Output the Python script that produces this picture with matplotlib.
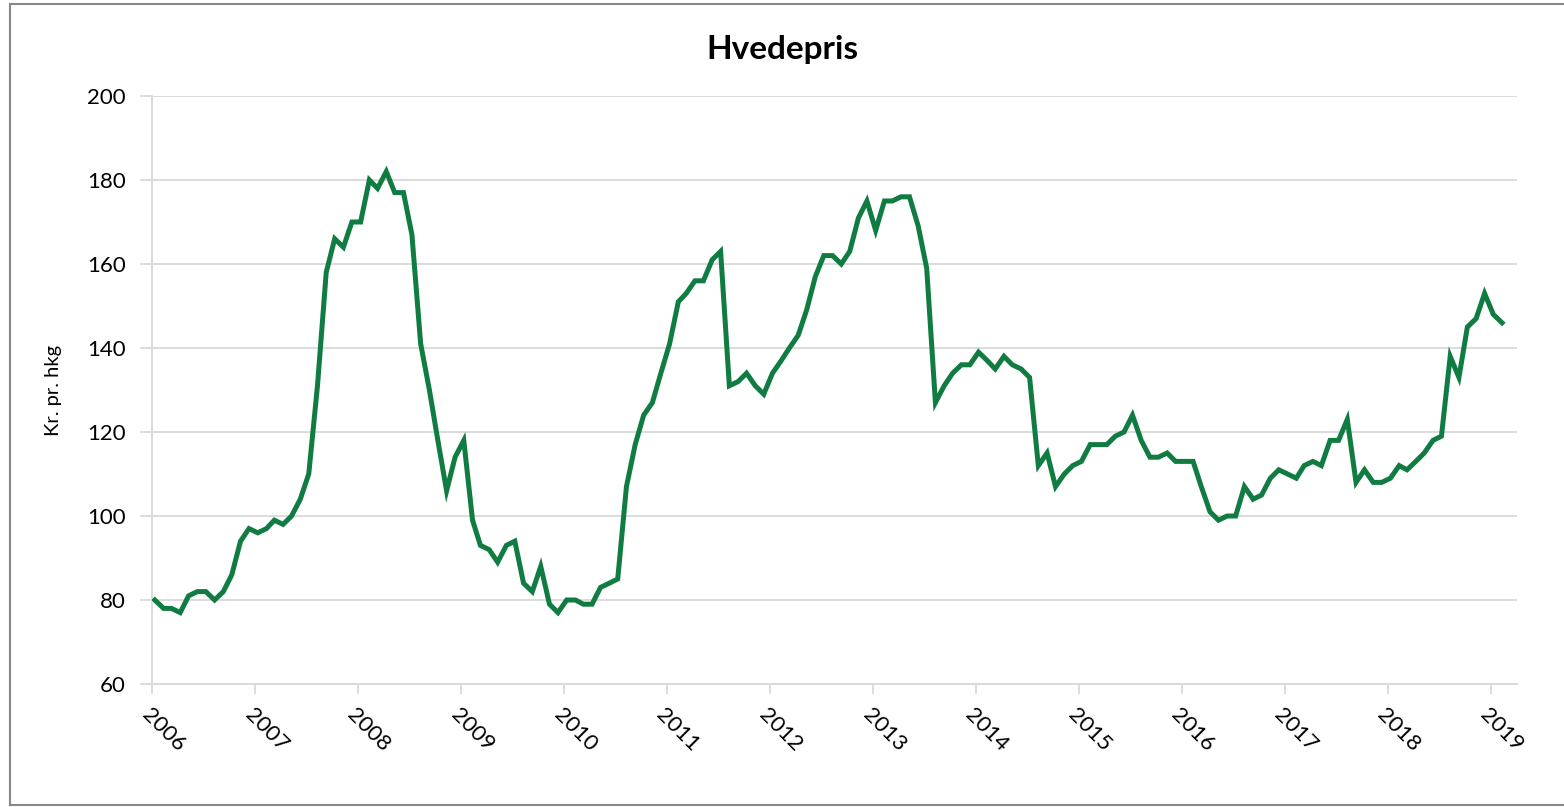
import matplotlib
matplotlib.use('Agg')
import matplotlib.pyplot as plt
import matplotlib.dates as mdates
import numpy as np
import pandas as pd
from matplotlib.lines import Line2D

title = 'Hvedepris'
yLabel = 'Kr. pr. hkg'
startMonth = '2006-01-01'
yearTicks = list(range(2006, 2020))

# monthly wheat price, Jan 2006 .. Feb 2019
prices = [
    80, 78, 78, 77, 81, 82, 82, 80, 82, 86, 94, 97,          # 2006
    96, 97, 99, 98, 100, 104, 110, 131, 158, 166, 164, 170,  # 2007
    170, 180, 178, 182, 177, 177, 167, 141, 130, 118, 106, 114,  # 2008
    118, 99, 93, 92, 89, 93, 94, 84, 82, 88, 79, 77,         # 2009
    80, 80, 79, 79, 83, 84, 85, 107, 117, 124, 127, 134,     # 2010
    141, 151, 153, 156, 156, 161, 163, 131, 132, 134, 131, 129,  # 2011
    134, 137, 140, 143, 149, 157, 162, 162, 160, 163, 171, 175,  # 2012
    168, 175, 175, 176, 176, 169, 159, 127, 131, 134, 136, 136,  # 2013
    139, 137, 135, 138, 136, 135, 133, 112, 115, 107, 110, 112,  # 2014
    113, 117, 117, 117, 119, 120, 124, 118, 114, 114, 115, 113,  # 2015
    113, 113, 107, 101, 99, 100, 100, 107, 104, 105, 109, 111,   # 2016
    110, 109, 112, 113, 112, 118, 118, 123, 108, 111, 108, 108,  # 2017
    109, 112, 111, 113, 115, 118, 119, 138, 133, 145, 147, 153,  # 2018
    148, 146,                                                  # 2019
]

lineColor = '#107c41'
gridColor = '#d9d9d9'
plt.rcParams['font.family'] = ['Lato', 'DejaVu Sans']

dates = pd.date_range(startMonth, periods=len(prices), freq='MS') + pd.Timedelta(days=10)

fig = plt.figure(figsize=(15.64, 8.07), dpi=100)
ax = fig.add_axes([152 / 1564, 1 - 684 / 807, (1517 - 152) / 1564, (684 - 96) / 807])

ax.plot(dates, prices, color=lineColor, linewidth=3.6, solid_joinstyle='miter', zorder=3)

ax.set_ylim(60, 200)
ax.set_yticks(np.arange(60, 201, 20))
ax.set_xlim(pd.Timestamp('2006-01-01'), pd.Timestamp('2019-04-05'))
ax.set_xticks([pd.Timestamp(f'{y}-01-01') for y in yearTicks])
ax.xaxis.set_major_formatter(mdates.DateFormatter('%Y'))

ax.grid(axis='y', color=gridColor, linewidth=1.3)
for side in ['top', 'right']:
    ax.spines[side].set_visible(False)
ax.spines['left'].set_color(gridColor)
ax.spines['bottom'].set_color(gridColor)
ax.spines['left'].set_linewidth(1.3)
ax.spines['bottom'].set_linewidth(1.3)

ax.tick_params(axis='y', length=9, width=1.3, color=gridColor, labelsize=16, pad=10)
ax.tick_params(axis='x', length=7, width=1.3, color=gridColor, labelsize=16, pad=8)
for label in ax.get_xticklabels():
    label.set_rotation(-45)
    label.set_ha('left')
    label.set_va('top')
    label.set_rotation_mode('anchor')

ax.set_ylabel(yLabel, fontsize=14.5, labelpad=18)
fig.text(0.5, 1 - 50 / 807, title, ha='center', va='center', fontsize=24, fontweight='bold')

# chart border
borderColor = '#888888'
fig.add_artist(Line2D([10 / 1564, 10 / 1564], [0.002, 1 - 4 / 807], color=borderColor, linewidth=1.5, transform=fig.transFigure))
fig.add_artist(Line2D([10 / 1564, 1.0], [1 - 4 / 807, 1 - 4 / 807], color=borderColor, linewidth=1.5, transform=fig.transFigure))
fig.add_artist(Line2D([10 / 1564, 1.0], [0.002, 0.002], color=borderColor, linewidth=1.5, transform=fig.transFigure))

fig.savefig('out.png', dpi=100)
